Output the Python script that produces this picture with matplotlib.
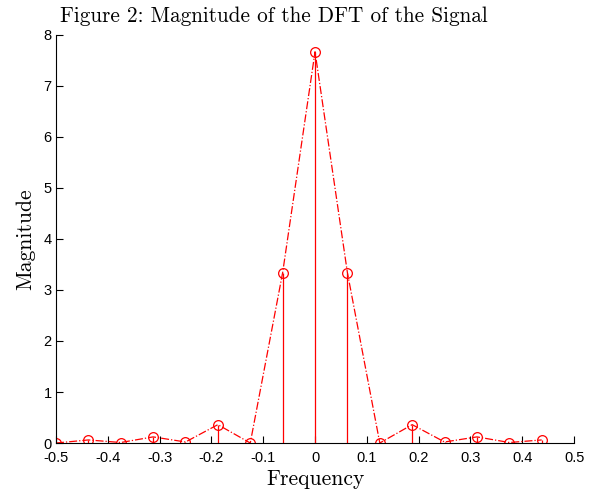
import numpy as np
import matplotlib
matplotlib.use("Agg")
import matplotlib.pyplot as plt

# frequency bins (N = 16) and DFT magnitudes
freq = [-0.5, -0.4375, -0.375, -0.3125, -0.25, -0.1875, -0.125, -0.0625,
        0.0, 0.0625, 0.125, 0.1875, 0.25, 0.3125, 0.375, 0.4375]
mag = [0.0, 0.06, 0.01, 0.12, 0.02, 0.36, 0.0, 3.34,
       7.67, 3.34, 0.0, 0.36, 0.02, 0.12, 0.01, 0.06]
xticks = [-0.5, -0.4, -0.3, -0.2, -0.1, 0, 0.1, 0.2, 0.3, 0.4, 0.5]
xtick_labels = ["-0.5", "-0.4", "-0.3", "-0.2", "-0.1", "0", "0.1", "0.2", "0.3", "0.4", "0.5"]
yticks = [0, 1, 2, 3, 4, 5, 6, 7, 8]

fig = plt.figure(figsize=(5.98, 4.99), dpi=100)
ax = fig.add_axes([0.0936, 0.1122, 0.8664, 0.8178])

ax.vlines(freq, 0, mag, color="red", lw=0.9)
ax.plot(freq, mag, color="red", ls="-.", lw=0.9, marker="o", ms=7,
        mfc="none", mec="red", mew=0.9)

ax.set_xlim(-0.5, 0.5)
ax.set_ylim(0, 8)
ax.set_xticks(xticks)
ax.set_xticklabels(xtick_labels)
ax.set_yticks(yticks)
ax.tick_params(direction="in", length=5, labelsize=10.5, width=0.8)
ax.tick_params(axis="x", pad=6)
ax.tick_params(axis="y", pad=3)
for lbl in ax.get_xticklabels() + ax.get_yticklabels():
    lbl.set_family("Liberation Sans")
ax.spines["top"].set_visible(False)
ax.spines["right"].set_visible(False)

ax.set_title("Figure 2: Magnitude of the DFT of the Signal",
             family="cmr10", fontsize=15.3, pad=9, x=0.421)
ax.set_xlabel("Frequency", family="cmr10", fontsize=15.5, labelpad=3)
ax.set_ylabel("Magnitude", family="cmr10", fontsize=15.5, labelpad=6)

fig.savefig("out.png", dpi=100)
